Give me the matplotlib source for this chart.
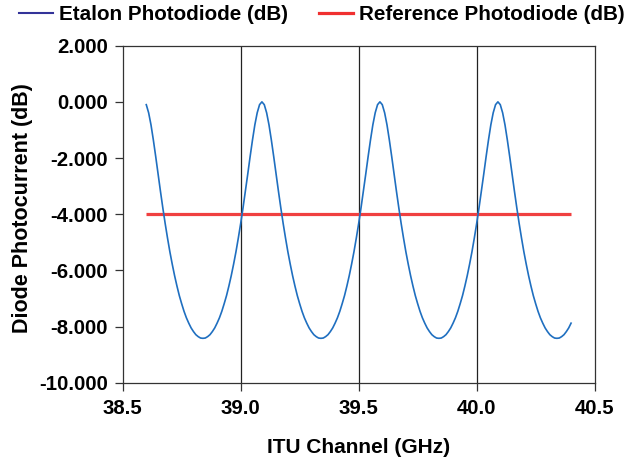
import matplotlib
matplotlib.use("Agg")
import matplotlib.pyplot as plt
from matplotlib.lines import Line2D
import numpy as np

plt.rcParams['font.family'] = ['Liberation Sans', 'DejaVu Sans']
plt.rcParams['font.weight'] = 'bold'

# ITU channel grid (GHz), 0.01 GHz steps from 38.60 to 40.40
freq_start = 38.60
freq_step = 0.01

# etalon photodiode response (dB)
etalon_db = [
    -0.10, -0.39, -0.82, -1.36, -1.95, -2.57, -3.18, -3.77, -4.33, -4.85,
    -5.34, -5.78, -6.19, -6.56, -6.90, -7.19, -7.46, -7.69, -7.88, -8.05,
    -8.18, -8.29, -8.36, -8.41, -8.42, -8.41, -8.36, -8.29, -8.18, -8.05,
    -7.88, -7.69, -7.46, -7.19, -6.90, -6.56, -6.19, -5.78, -5.34, -4.85,
    -4.33, -3.77, -3.18, -2.57, -1.95, -1.36, -0.82, -0.39, -0.10, 0.00,
    -0.10, -0.39, -0.82, -1.36, -1.95, -2.57, -3.18, -3.77, -4.33, -4.85,
    -5.34, -5.78, -6.19, -6.56, -6.90, -7.19, -7.46, -7.69, -7.88, -8.05,
    -8.18, -8.29, -8.36, -8.41, -8.42, -8.41, -8.36, -8.29, -8.18, -8.05,
    -7.88, -7.69, -7.46, -7.19, -6.90, -6.56, -6.19, -5.78, -5.34, -4.85,
    -4.33, -3.77, -3.18, -2.57, -1.95, -1.36, -0.82, -0.39, -0.10, 0.00,
    -0.10, -0.39, -0.82, -1.36, -1.95, -2.57, -3.18, -3.77, -4.33, -4.85,
    -5.34, -5.78, -6.19, -6.56, -6.90, -7.19, -7.46, -7.69, -7.88, -8.05,
    -8.18, -8.29, -8.36, -8.41, -8.42, -8.41, -8.36, -8.29, -8.18, -8.05,
    -7.88, -7.69, -7.46, -7.19, -6.90, -6.56, -6.19, -5.78, -5.34, -4.85,
    -4.33, -3.77, -3.18, -2.57, -1.95, -1.36, -0.82, -0.39, -0.10, 0.00,
    -0.10, -0.39, -0.82, -1.36, -1.95, -2.57, -3.18, -3.77, -4.33, -4.85,
    -5.34, -5.78, -6.19, -6.56, -6.90, -7.19, -7.46, -7.69, -7.88, -8.05,
    -8.18, -8.29, -8.36, -8.41, -8.42, -8.41, -8.36, -8.29, -8.18, -8.05,
    -7.88,
]

# reference photodiode (flat)
ref_freq = [38.6, 40.4]
ref_db = [-4.0, -4.0]

x_ticks = [38.5, 39.0, 39.5, 40.0, 40.5]
y_ticks = [2, 0, -2, -4, -6, -8, -10]
grid_x = [39.0, 39.5, 40.0]

freq = freq_start + freq_step * np.arange(len(etalon_db))

fig = plt.figure(figsize=(6.24, 4.71), dpi=100)
ax = fig.add_axes([0.1966, 0.1875, 0.7564, 0.7155])

for g in grid_x:
    ax.axvline(g, color='#222222', linewidth=0.9, zorder=1)

ax.plot(freq, etalon_db, color='#1f6fc0', linewidth=1.2, zorder=3)
ax.plot(ref_freq, ref_db, color='#f04040', linewidth=2.3,
        solid_capstyle='butt', zorder=2)

ax.set_xlim(38.5, 40.5)
ax.set_ylim(-10, 2)
ax.set_xticks(x_ticks)
ax.set_xticklabels(['%.1f' % v for v in x_ticks])
ax.set_yticks(y_ticks)
ax.set_yticklabels(['%.3f' % v for v in y_ticks])

ax.tick_params(axis='both', direction='out', length=5.5, width=0.9,
               color='#333333', labelsize=14.7)
ax.tick_params(axis='x', pad=6.5)
ax.tick_params(axis='y', pad=5)
for s in ax.spines.values():
    s.set_color('#333333')
    s.set_linewidth(0.9)

ax.set_xlabel('ITU Channel (GHz)', fontsize=15, fontweight='bold', va='top')
ax.xaxis.set_label_coords(0.5, -0.164)
ax.set_ylabel('Diode Photocurrent (dB)', fontsize=15.5, fontweight='bold')
ax.yaxis.set_label_coords(-0.190, 0.519)

handles = [Line2D([], [], color='#333399', linewidth=1.5),
           Line2D([], [], color='#f03030', linewidth=2.3)]
fig.legend(handles, ['Etalon Photodiode (dB)', 'Reference Photodiode (dB)'],
           ncol=2, frameon=False, loc='center left',
           bbox_to_anchor=(0.030, 1 - 15 / 471), borderpad=0, borderaxespad=0,
           handlelength=1.65, handletextpad=0.3, columnspacing=1.5,
           prop={'size': 14.9, 'weight': 'bold'})

fig.savefig('out.png', dpi=100)
